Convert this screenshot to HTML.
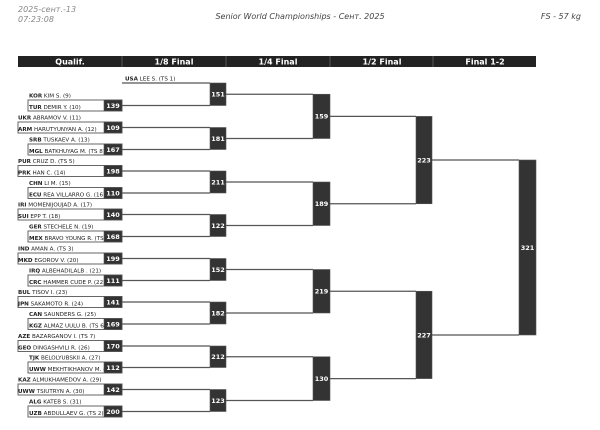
<!DOCTYPE html>
<html><head><meta charset="utf-8"><style>
html,body{margin:0;padding:0;background:#fff;}
svg{display:block;font-family:"DejaVu Sans","Liberation Sans",sans-serif;}
.n{font-size:5.6px;fill:#222;}
.n tspan.c{font-weight:bold;}
.q{fill:#fff;stroke:#666;stroke-width:1;}
.d{fill:#333;stroke:#555;stroke-width:0.6;}
.l{stroke:#555;stroke-width:1.2;fill:none;}
.b{fill:#fff;font-size:6.5px;font-weight:bold;text-anchor:middle;}
.h{fill:#fff;font-size:8px;font-weight:bold;text-anchor:middle;}
.t{font-size:8px;font-style:italic;fill:#444;}
</style></head><body>
<svg width="600" height="430" viewBox="0 0 600 430" xmlns="http://www.w3.org/2000/svg">
<text class="t" x="18" y="12" fill="#777" style="fill:#888">2025-сент.-13</text>
<text class="t" x="18" y="22" style="fill:#888">07:23:08</text>
<text class="t" x="300" y="19" text-anchor="middle">Senior World Championships - Сент. 2025</text>
<text class="t" x="581" y="19" text-anchor="end">FS - 57 kg</text>

<rect x="18" y="56" width="518" height="11" fill="#222"/>
<g stroke="#666" stroke-width="0.8"><line x1="122" y1="56" x2="122" y2="67"/><line x1="226" y1="56" x2="226" y2="67"/><line x1="330" y1="56" x2="330" y2="67"/><line x1="433" y1="56" x2="433" y2="67"/></g>
<text class="h" x="70" y="64.5">Qualif.</text>
<text class="h" x="174" y="64.5">1/8 Final</text>
<text class="h" x="278" y="64.5">1/4 Final</text>
<text class="h" x="382" y="64.5">1/2 Final</text>
<text class="h" x="485" y="64.5">Final 1-2</text>

<!-- qualif rectangles -->
<rect class="q" x="28" y="100" width="94" height="11"/>
<rect class="q" x="18" y="122" width="104" height="11"/>
<rect class="q" x="28" y="144" width="94" height="11"/>
<rect class="q" x="18" y="165.5" width="104" height="11"/>
<rect class="q" x="28" y="187.5" width="94" height="11"/>
<rect class="q" x="18" y="209" width="104" height="11"/>
<rect class="q" x="28" y="231" width="94" height="11"/>
<rect class="q" x="18" y="253" width="104" height="11"/>
<rect class="q" x="28" y="275" width="94" height="11"/>
<rect class="q" x="18" y="296.5" width="104" height="11"/>
<rect class="q" x="28" y="318.5" width="94" height="11"/>
<rect class="q" x="18" y="340.5" width="104" height="11"/>
<rect class="q" x="28" y="362" width="94" height="11"/>
<rect class="q" x="18" y="384" width="104" height="11"/>
<rect class="q" x="28" y="406" width="94" height="11"/>

<!-- names -->
<text class="n" x="125" y="80.5"><tspan class="c">USA</tspan> LEE S. (TS 1)</text>
<text class="n" x="29" y="97.5"><tspan class="c">KOR</tspan> KIM S. (9)</text>
<text class="n" x="29" y="109"><tspan class="c">TUR</tspan> DEMIR Y. (10)</text>
<text class="n" x="18" y="119.5"><tspan class="c">UKR</tspan> ABRAMOV V. (11)</text>
<text class="n" x="18" y="131"><tspan class="c">ARM</tspan> HARUTYUNYAN A. (12)</text>
<text class="n" x="29" y="141.5"><tspan class="c">SRB</tspan> TUSKAEV A. (13)</text>
<text class="n" x="29" y="153"><tspan class="c">MGL</tspan> BATKHUYAG M. (TS 8)</text>
<text class="n" x="18" y="163"><tspan class="c">PUR</tspan> CRUZ D. (TS 5)</text>
<text class="n" x="18" y="174.5"><tspan class="c">PRK</tspan> HAN C. (14)</text>
<text class="n" x="29" y="185"><tspan class="c">CHN</tspan> LI M. (15)</text>
<text class="n" x="29" y="196.5"><tspan class="c">ECU</tspan> REA VILLARRO G. (16)</text>
<text class="n" x="18" y="206.5"><tspan class="c">IRI</tspan> MOMENIJOUJAD A. (17)</text>
<text class="n" x="18" y="218"><tspan class="c">SUI</tspan> EPP T. (18)</text>
<text class="n" x="29" y="228.5"><tspan class="c">GER</tspan> STECHELE N. (19)</text>
<text class="n" x="29" y="240"><tspan class="c">MEX</tspan> BRAVO YOUNG R. (TS 4)</text>
<text class="n" x="18" y="250.5"><tspan class="c">IND</tspan> AMAN A. (TS 3)</text>
<text class="n" x="18" y="262"><tspan class="c">MKD</tspan> EGOROV V. (20)</text>
<text class="n" x="29" y="272.5"><tspan class="c">IRQ</tspan> ALBEHADILALB . (21)</text>
<text class="n" x="29" y="284"><tspan class="c">CRC</tspan> HAMMER CUDE P. (22)</text>
<text class="n" x="18" y="294"><tspan class="c">BUL</tspan> TISOV I. (23)</text>
<text class="n" x="18" y="305.5"><tspan class="c">JPN</tspan> SAKAMOTO R. (24)</text>
<text class="n" x="29" y="316"><tspan class="c">CAN</tspan> SAUNDERS G. (25)</text>
<text class="n" x="29" y="327.5"><tspan class="c">KGZ</tspan> ALMAZ UULU B. (TS 6)</text>
<text class="n" x="18" y="338"><tspan class="c">AZE</tspan> BAZARGANOV I. (TS 7)</text>
<text class="n" x="18" y="349.5"><tspan class="c">GEO</tspan> DINGASHVILI R. (26)</text>
<text class="n" x="29" y="359.5"><tspan class="c">TJK</tspan> BELOLYUBSKII A. (27)</text>
<text class="n" x="29" y="371"><tspan class="c">UWW</tspan> MEKHTIKHANOV M. (28)</text>
<text class="n" x="18" y="381.5"><tspan class="c">KAZ</tspan> ALMUKHAMEDOV A. (29)</text>
<text class="n" x="18" y="393"><tspan class="c">UWW</tspan> TSIUTRYN A. (30)</text>
<text class="n" x="29" y="403.5"><tspan class="c">ALG</tspan> KATEB S. (31)</text>
<text class="n" x="29" y="415"><tspan class="c">UZB</tspan> ABDULLAEV G. (TS 2)</text>

<!-- connector lines -->
<g class="l">
<path d="M122 83H210"/>
<path d="M122 105.5H210M122 127.5H210M122 149.5H210M122 171H210M122 193H210M122 214.5H210M122 236.5H210M122 258.5H210M122 280.5H210M122 302H210M122 324H210M122 346H210M122 367.5H210M122 389.5H210M122 411.5H210"/>
<path d="M226 94.25H313M226 138.5H313M226 182H313M226 225.5H313M226 269.5H313M226 313H313M226 356.75H313M226 400.5H313"/>
<path d="M330 116.4H416M330 203.75H416M330 291.25H416M330 378.6H416"/>
<path d="M432 160H519M432 335H519"/>
</g>

<!-- qualif dark boxes -->
<g class="d">
<rect x="104" y="100" width="18" height="11"/><rect x="104" y="122" width="18" height="11"/>
<rect x="104" y="144" width="18" height="11"/><rect x="104" y="165.5" width="18" height="11"/>
<rect x="104" y="187.5" width="18" height="11"/><rect x="104" y="209" width="18" height="11"/>
<rect x="104" y="231" width="18" height="11"/><rect x="104" y="253" width="18" height="11"/>
<rect x="104" y="275" width="18" height="11"/><rect x="104" y="296.5" width="18" height="11"/>
<rect x="104" y="318.5" width="18" height="11"/><rect x="104" y="340.5" width="18" height="11"/>
<rect x="104" y="362" width="18" height="11"/><rect x="104" y="384" width="18" height="11"/>
<rect x="104" y="406" width="18" height="11"/>
<!-- 1/8 -->
<rect x="210" y="83" width="16" height="22.5"/><rect x="210" y="127.5" width="16" height="22"/>
<rect x="210" y="171" width="16" height="22"/><rect x="210" y="214.5" width="16" height="22"/>
<rect x="210" y="258.5" width="16" height="22"/><rect x="210" y="302" width="16" height="22"/>
<rect x="210" y="346" width="16" height="21.5"/><rect x="210" y="389.5" width="16" height="22"/>
<!-- 1/4 -->
<rect x="313" y="94.25" width="17" height="44.25"/><rect x="313" y="182" width="17" height="43.5"/>
<rect x="313" y="269.5" width="17" height="43.5"/><rect x="313" y="356.75" width="17" height="43.75"/>
<!-- 1/2 -->
<rect x="416" y="116.4" width="16" height="87.35"/><rect x="416" y="291.25" width="16" height="87.35"/>
<!-- final -->
<rect x="519" y="160" width="17" height="175"/>
</g>

<g class="b">
<text x="113" y="108">139</text><text x="113" y="130">109</text><text x="113" y="152">167</text>
<text x="113" y="173.5">198</text><text x="113" y="195.5">110</text><text x="113" y="217">140</text>
<text x="113" y="239">168</text><text x="113" y="261">199</text><text x="113" y="283">111</text>
<text x="113" y="304.5">141</text><text x="113" y="326.5">169</text><text x="113" y="348.5">170</text>
<text x="113" y="370">112</text><text x="113" y="392">142</text><text x="113" y="414">200</text>
<text x="218" y="96.5">151</text><text x="218" y="141">181</text><text x="218" y="184.5">211</text>
<text x="218" y="228">122</text><text x="218" y="272">152</text><text x="218" y="315.5">182</text>
<text x="218" y="359">212</text><text x="218" y="403">123</text>
<text x="321.5" y="118.7">159</text><text x="321.5" y="206">189</text>
<text x="321.5" y="293.5">219</text><text x="321.5" y="381">130</text>
<text x="424" y="162.3">223</text><text x="424" y="337.3">227</text>
<text x="527.5" y="249.8">321</text>
</g>
</svg>
</body></html>
